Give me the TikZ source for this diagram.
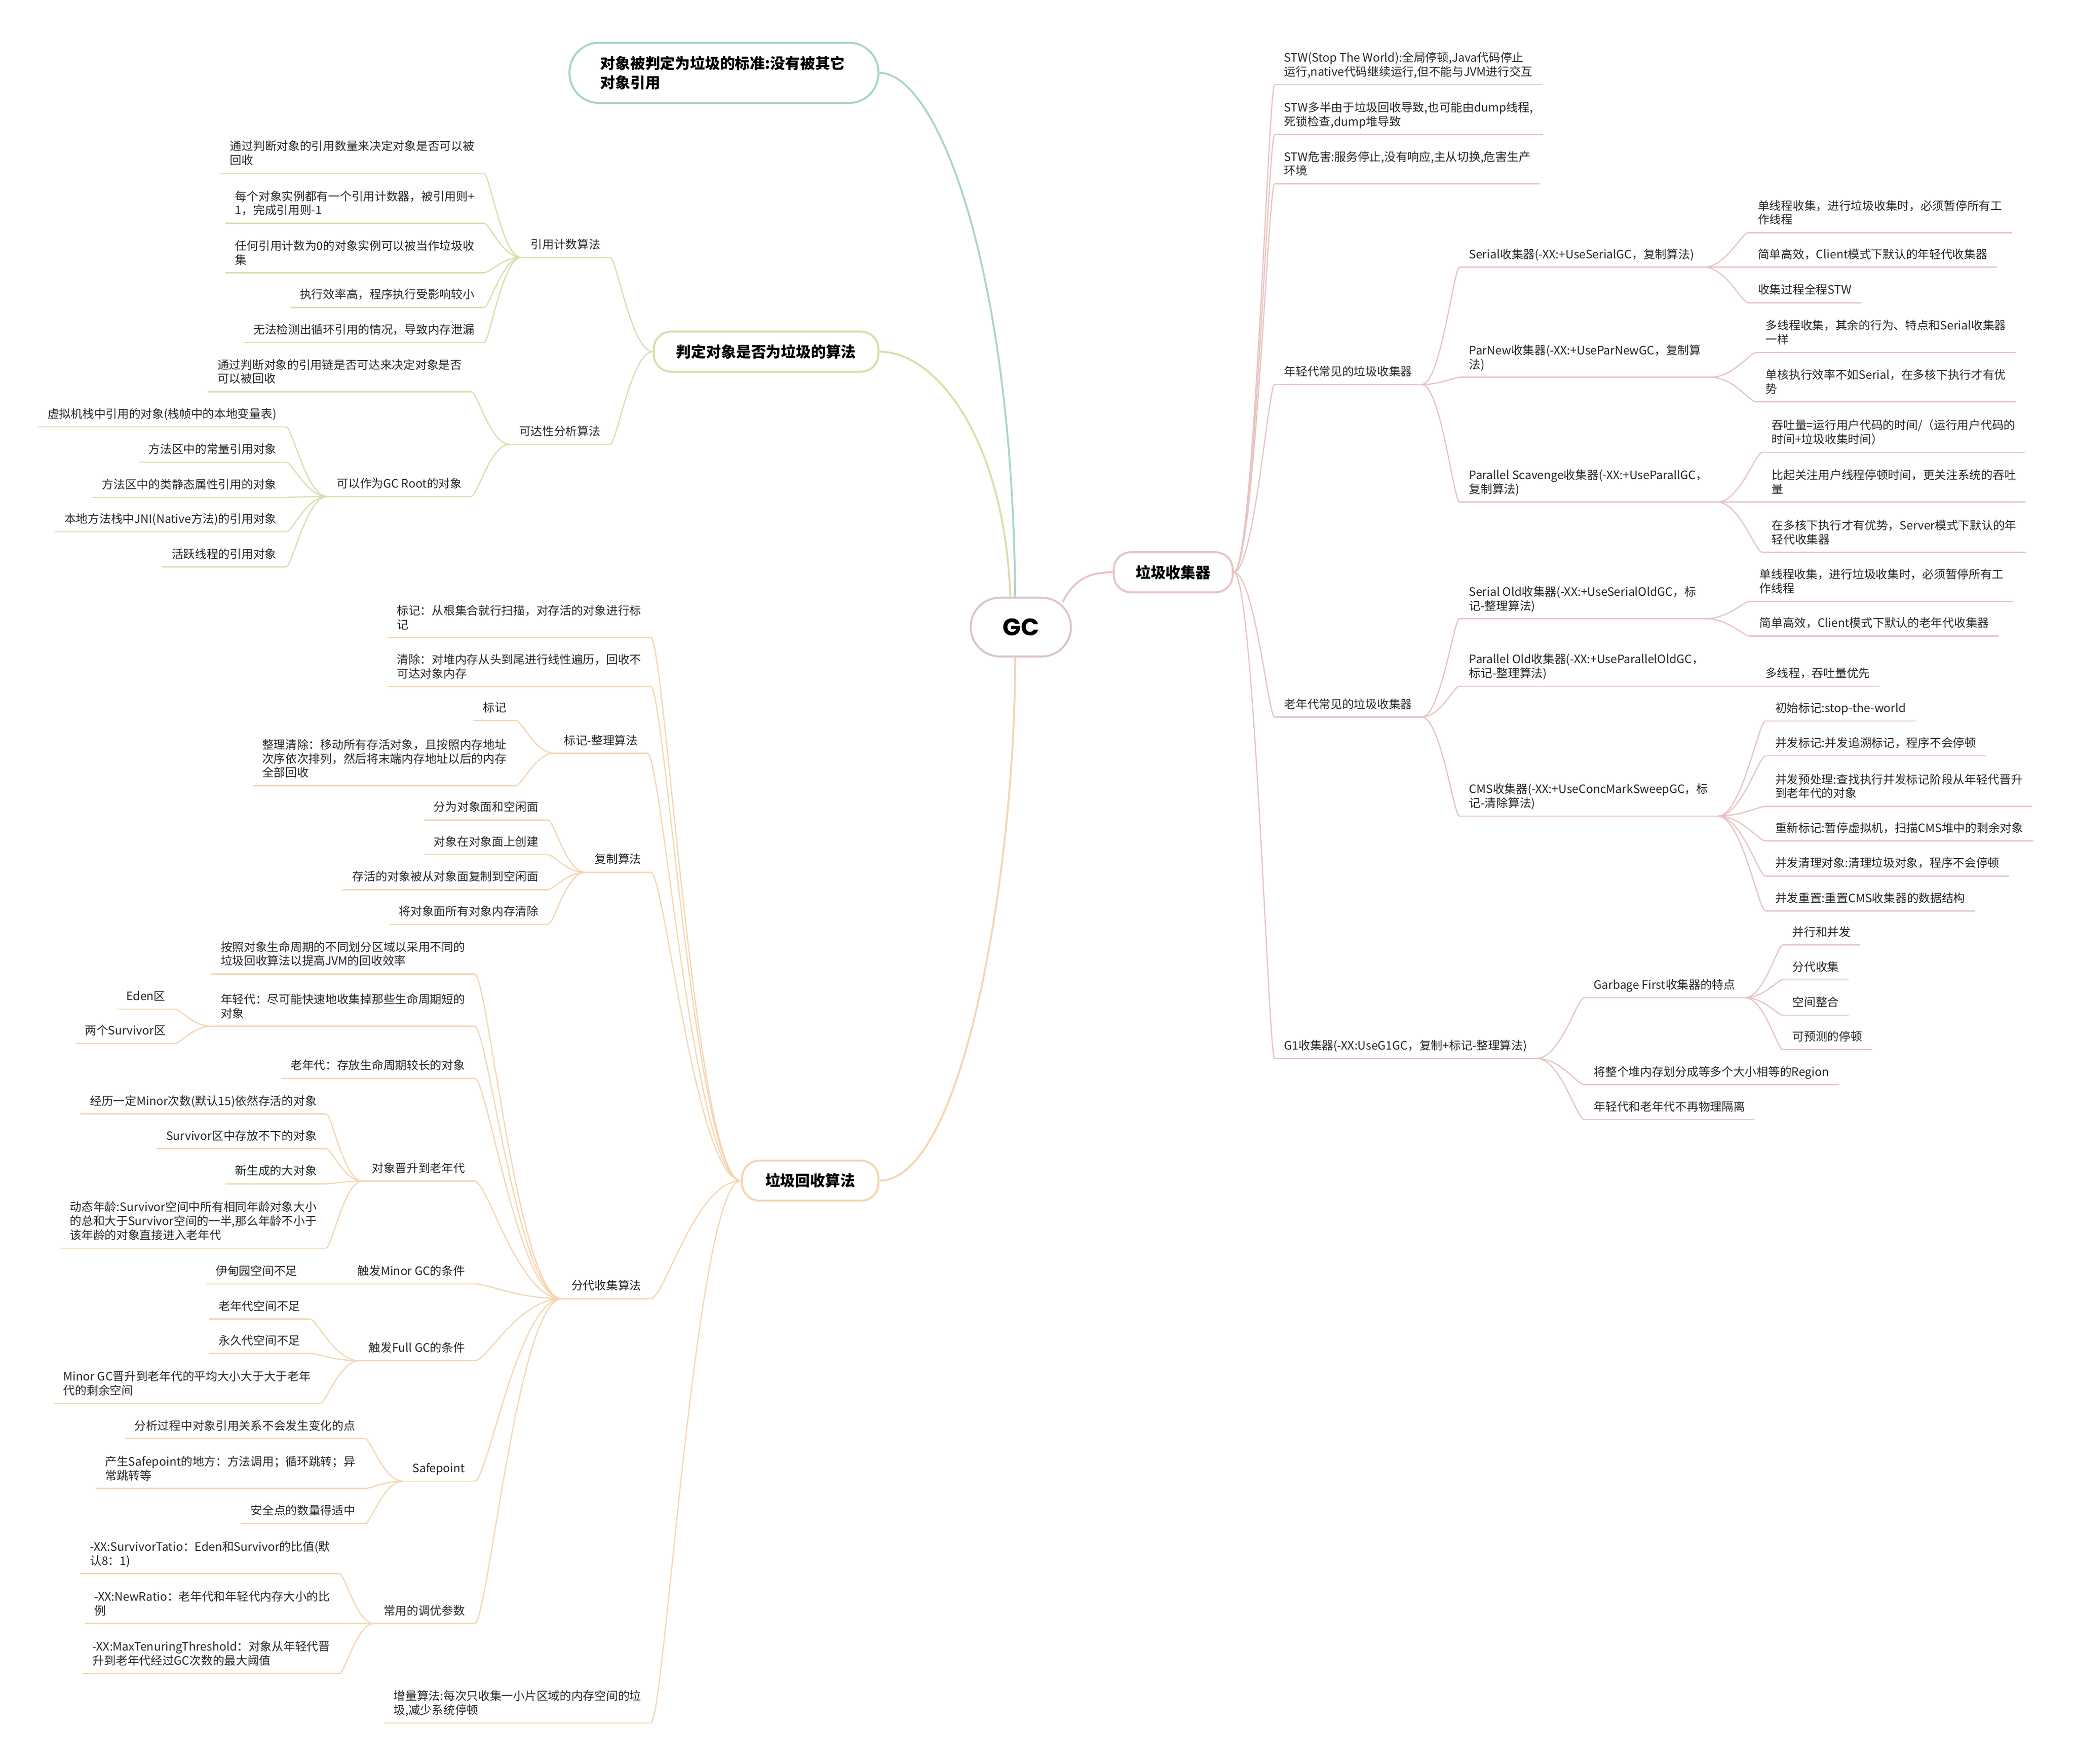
\documentclass[tikz,border=0pt]{standalone}
\usepackage{fontspec}
\setmainfont{Noto Sans CJK SC}
\newfontfamily\gcfont{Poppins}
\usetikzlibrary{calc}
\definecolor{cTeal}{HTML}{A8D6CC}
\definecolor{cYG}{HTML}{D7E0AA}
\definecolor{cOr}{HTML}{F5D6B2}
\definecolor{cPk}{HTML}{E8C4C4}
\definecolor{cGC}{HTML}{DCC4CE}
\definecolor{cTxt}{HTML}{262626}
\newcommand\lff{\fontsize{8.7pt}{10.5pt}\selectfont}
\newcommand\mbf{\fontsize{11.2pt}{14.7pt}\selectfont\bfseries}
\newcommand\mmconn[3][]{\draw[ln,#1] let \p1=(#2), \p2=(#3), \p3=($(\p1)!0.15!(\p2)$), \p4=($(\p1)!0.5!(\p2)$) in (\p1) .. controls (\x3,\y1) and (\x4,\y2) .. (\p2);}
\newcommand\mmul[2]{\foreach \n in {#2} {\draw[ln,#1] (\n.south west) -- (\n.south east);}}
\tikzset{
  lf/.style={font=\lff, inner xsep=7pt, inner ysep=4pt, text height=6.8pt, text depth=2.3pt, align=left, text=cTxt},
  L/.style={lf, anchor=south east},
  R/.style={lf, anchor=south west},
  two/.style={},
  three/.style={},
  mbox/.style={draw, line width=1.5pt, rounded corners=13pt, fill=white, font=\mbf, text=black, minimum height=30pt, inner sep=0pt},
  ln/.style={line width=0.9pt},
  mln/.style={line width=1.4pt},
}
\begin{document}
\begin{tikzpicture}[x=1pt,y=-1pt]
\fill[white] (0,0) rectangle (1552,1319.3);
\path[use as bounding box] (0,0) rectangle (1552,1319.3);

% main boxes
\node[mbox, draw=cTeal, minimum width=231pt, minimum height=45pt, rounded corners=22pt, align=left, text width=185pt] (b1) at (541.5,54.5) {对象被判定为垃圾的标准:没有被其它\\对象引用};
\node[mbox, draw=cYG, minimum width=168pt] (b2) at (573,263) {判定对象是否为垃圾的算法};
\node[mbox, draw=cOr, minimum width=102pt] (b3) at (606,883) {垃圾回收算法};
\node[mbox, draw=cPk, minimum width=89pt] (b4) at (877.5,428) {垃圾收集器};
\node[mbox, draw=cGC, minimum width=75pt, minimum height=44pt, rounded corners=22pt, font=\gcfont\bfseries\fontsize{18pt}{20pt}\selectfont] (gc) at (763.5,469) {GC};

\draw[mln,cTeal] (b1.east) .. controls +(43,0) and +(-2,-247) .. ($(gc.north)+(-4.2,0)$);
\draw[mln,cYG] (b2.east) .. controls +(43,0) and +(-4,-117) .. ($(gc.north)+(-7.9,0)$);
\draw[mln,cOr] (b3.east) .. controls +(63,0) and +(0,159) .. ($(gc.south)+(-4.2,0)$);
\draw[mln,cPk] ($(gc.north east)+(-7,4)$) .. controls +(9,-17) and +(-18,0) .. (b4.west);

% yellow-green branch
\node[L] (A) at (456.4,192.6) {引用计数算法};
\node[L,two] (A1) at (362,129.6) {通过判断对象的引用数量来决定对象是否可以被\\回收};
\node[L,two] (A2) at (362,167) {每个对象实例都有一个引用计数器，被引用则+\\1，完成引用则-1};
\node[L,two] (A3) at (362,204) {任何引用计数为0的对象实例可以被当作垃圾收\\集};
\node[L] (A4) at (362,230) {执行效率高，程序执行受影响较小};
\node[L] (A5) at (362,256.3) {无法检测出循环引用的情况，导致内存泄漏};
\node[L] (B) at (456.4,332.3) {可达性分析算法};
\node[L,two] (B1) at (352.6,293) {通过判断对象的引用链是否可达来决定对象是否\\可以被回收};
\node[L] (B2) at (352.6,371.3) {可以作为GC Root的对象};
\node[L] (B2a) at (214,319.2) {虚拟机栈中引用的对象(栈帧中的本地变量表)};
\node[L] (B2b) at (214,345.7) {方法区中的常量引用对象};
\node[L] (B2c) at (214,372) {方法区中的类静态属性引用的对象};
\node[L] (B2d) at (214,397.8) {本地方法栈中JNI(Native方法)的引用对象};
\node[L] (B2e) at (214,424) {活跃线程的引用对象};
\mmul{cYG}{A,A1,A2,A3,A4,A5,B,B1,B2,B2a,B2b,B2c,B2d,B2e}
\foreach \c in {A,B} {\mmconn[cYG]{\c.south east}{b2.west}}
\foreach \c in {A1,A2,A3,A4,A5} {\mmconn[cYG]{\c.south east}{A.south west}}
\foreach \c in {B1,B2} {\mmconn[cYG]{\c.south east}{B.south west}}
\foreach \c in {B2a,B2b,B2c,B2d,B2e} {\mmconn[cYG]{\c.south east}{B2.south west}}

% orange branch
\node[L,two] (C1) at (486.8,476.8) {标记：从根集合就行扫描，对存活的对象进行标\\记};
\node[L,two] (C2) at (486.8,513.6) {清除：对堆内存从头到尾进行线性遍历，回收不\\可达对象内存};
\node[L] (C3) at (484.3,563.4) {标记-整理算法};
\node[L] (C3a) at (386,538.9) {标记};
\node[L,three] (C3b) at (386,587.6) {整理清除：移动所有存活对象，且按照内存地址\\次序依次排列，然后将末端内存地址以后的内存\\全部回收};
\node[L] (C4) at (486.8,652.4) {复制算法};
\node[L] (C4a) at (410,613.3) {分为对象面和空闲面};
\node[L] (C4b) at (410,639.3) {对象在对象面上创建};
\node[L] (C4c) at (410,665.4) {存活的对象被从对象面复制到空闲面};
\node[L] (C4d) at (410,691.4) {将对象面所有对象内存清除};
\node[L] (C5) at (486.8,971.3) {分代收集算法};
\node[L,two] (C5a) at (355,728.4) {按照对象生命周期的不同划分区域以采用不同的\\垃圾回收算法以提高JVM的回收效率};
\node[L,two] (C5b) at (355,767.6) {年轻代：尽可能快速地收集掉那些生命周期短的\\对象};
\node[L] (C5b1) at (131,754.7) {Eden区};
\node[L] (C5b2) at (131,780.4) {两个Survivor区};
\node[L] (C5c) at (355,806.6) {老年代：存放生命周期较长的对象};
\node[L] (C5d) at (355,883.4) {对象晋升到老年代};
\node[L] (C5d1) at (244,833.1) {经历一定Minor次数(默认15)依然存活的对象};
\node[L] (C5d2) at (244,859.1) {Survivor区中存放不下的对象};
\node[L] (C5d3) at (244,885.4) {新生成的大对象};
\node[L,three] (C5d4) at (244,933.5) {动态年龄:Survivor空间中所有相同年龄对象大小\\的总和大于Survivor空间的一半,那么年龄不小于\\该年龄的对象直接进入老年代};
\node[L] (C5e) at (355,960.2) {触发Minor GC的条件};
\node[L] (C5e1) at (229.5,960.2) {伊甸园空间不足};
\node[L] (C5f) at (355,1017.7) {触发Full GC的条件};
\node[L] (C5f1) at (231.6,986.5) {老年代空间不足};
\node[L] (C5f2) at (231.6,1012.2) {永久代空间不足};
\node[L,two] (C5f3) at (239.5,1049.6) {Minor GC晋升到老年代的平均大小大于大于老年\\代的剩余空间};
\node[L] (C5g) at (355,1107.8) {Safepoint};
\node[L] (C5g1) at (273,1075.9) {分析过程中对象引用关系不会发生变化的点};
\node[L,two] (C5g2) at (273,1113.3) {产生Safepoint的地方：方法调用；循环跳转；异\\常跳转等};
\node[L] (C5g3) at (273,1139.5) {安全点的数量得适中};
\node[L] (C5h) at (355,1214.3) {常用的调优参数};
\node[L,two] (C5h1) at (254,1177) {-XX:SurvivorTatio：Eden和Survivor的比值(默\\认8：1)};
\node[L,two] (C5h2) at (254,1214.3) {-XX:NewRatio：老年代和年轻代内存大小的比\\例};
\node[L,two] (C5h3) at (254,1251.7) {-XX:MaxTenuringThreshold：对象从年轻代晋\\升到老年代经过GC次数的最大阈值};
\node[L,two] (C6) at (486.8,1288.7) {增量算法:每次只收集一小片区域的内存空间的垃\\圾,减少系统停顿};
\mmul{cOr}{C1,C2,C3,C3a,C3b,C4,C4a,C4b,C4c,C4d,C5,C5a,C5b,C5b1,C5b2,C5c,C5d,C5d1,C5d2,C5d3,C5d4,C5e,C5e1,C5f,C5f1,C5f2,C5f3,C5g,C5g1,C5g2,C5g3,C5h,C5h1,C5h2,C5h3,C6}
\foreach \c in {C1,C2,C3,C4,C5,C6} {\mmconn[cOr]{\c.south east}{b3.west}}
\foreach \c in {C3a,C3b} {\mmconn[cOr]{\c.south east}{C3.south west}}
\foreach \c in {C4a,C4b,C4c,C4d} {\mmconn[cOr]{\c.south east}{C4.south west}}
\foreach \c in {C5a,C5b,C5c,C5d,C5e,C5f,C5g,C5h} {\mmconn[cOr]{\c.south east}{C5.south west}}
\foreach \c in {C5b1,C5b2} {\mmconn[cOr]{\c.south east}{C5b.south west}}
\foreach \c in {C5d1,C5d2,C5d3,C5d4} {\mmconn[cOr]{\c.south east}{C5d.south west}}
\mmconn[cOr]{C5e1.south east}{C5e.south west}
\foreach \c in {C5f1,C5f2,C5f3} {\mmconn[cOr]{\c.south east}{C5f.south west}}
\foreach \c in {C5g1,C5g2,C5g3} {\mmconn[cOr]{\c.south east}{C5g.south west}}
\foreach \c in {C5h1,C5h2,C5h3} {\mmconn[cOr]{\c.south east}{C5h.south west}}

% pink branch
\node[R,two] (D1) at (953.3,63.4) {STW(Stop The World):全局停顿,Java代码停止\\运行,native代码继续运行,但不能与JVM进行交互};
\node[R,two] (D2) at (953.3,100.6) {STW多半由于垃圾回收导致,也可能由dump线程,\\死锁检查,dump堆导致};
\node[R,two] (D3) at (953.3,137.4) {STW危害:服务停止,没有响应,主从切换,危害生产\\环境};
\node[R] (D4) at (953.3,287.6) {年轻代常见的垃圾收集器};
\node[R] (D4a) at (1091.6,199.8) {Serial收集器(-XX:+UseSerialGC，复制算法)};
\node[R,two] (D4a1) at (1307.6,174) {单线程收集，进行垃圾收集时，必须暂停所有工\\作线程};
\node[R] (D4a2) at (1307.6,199.8) {简单高效，Client模式下默认的年轻代收集器};
\node[R] (D4a3) at (1307.6,226.5) {收集过程全程STW};
\node[R,two] (D4b) at (1091.6,282.2) {ParNew收集器(-XX:+UseParNewGC，复制算\\法)};
\node[R,two] (D4b1) at (1313.5,263.7) {多线程收集，其余的行为、特点和Serial收集器\\一样};
\node[R,two] (D4b2) at (1313.5,300.5) {单核执行效率不如Serial，在多核下执行才有优\\势};
\node[R,two] (D4c) at (1091.6,375.5) {Parallel Scavenge收集器(-XX:+UseParallGC，\\复制算法)};
\node[R,two] (D4c1) at (1318,338.3) {吞吐量=运行用户代码的时间/（运行用户代码的\\时间+垃圾收集时间）};
\node[R,two] (D4c2) at (1318,375.5) {比起关注用户线程停顿时间，更关注系统的吞吐\\量};
\node[R,two] (D4c3) at (1318,413.1) {在多核下执行才有优势，Server模式下默认的年\\轻代收集器};
\node[R] (D5) at (953.3,536.3) {老年代常见的垃圾收集器};
\node[R,two] (D5a) at (1091.6,462.7) {Serial Old收集器(-XX:+UseSerialOldGC，标\\记-整理算法)};
\node[R,two] (D5a1) at (1308.8,449.9) {单线程收集，进行垃圾收集时，必须暂停所有工\\作线程};
\node[R] (D5a2) at (1308.8,475.7) {简单高效，Client模式下默认的老年代收集器};
\node[R,two] (D5b) at (1091.6,513.2) {Parallel Old收集器(-XX:+UseParallelOldGC，\\标记-整理算法)};
\node[R] (D5b1) at (1313.2,513.2) {多线程，吞吐量优先};
\node[R,two] (D5c) at (1091.6,610.4) {CMS收集器(-XX:+UseConcMarkSweepGC，标\\记-清除算法)};
\node[R] (D5c1) at (1320.6,539.2) {初始标记:stop-the-world};
\node[R] (D5c2) at (1320.6,565.3) {并发标记:并发追溯标记，程序不会停顿};
\node[R,two] (D5c3) at (1320.6,603.1) {并发预处理:查找执行并发标记阶段从年轻代晋升\\到老年代的对象};
\node[R] (D5c4) at (1320.6,628.9) {重新标记:暂停虚拟机，扫描CMS堆中的剩余对象};
\node[R] (D5c5) at (1320.6,655.2) {并发清理对象:清理垃圾对象，程序不会停顿};
\node[R] (D5c6) at (1320.6,681.3) {并发重置:重置CMS收集器的数据结构};
\node[R] (D6) at (953.3,791.6) {G1收集器(-XX:UseG1GC，复制+标记-整理算法)};
\node[R] (D6a) at (1184.9,746.2) {Garbage First收集器的特点};
\node[R] (D6a1) at (1333.5,706.7) {并行和并发};
\node[R] (D6a2) at (1333.5,732.8) {分代收集};
\node[R] (D6a3) at (1333.5,759.2) {空间整合};
\node[R] (D6a4) at (1333.5,784.9) {可预测的停顿};
\node[R] (D6b) at (1184.9,811.2) {将整个堆内存划分成等多个大小相等的Region};
\node[R] (D6c) at (1184.9,837.4) {年轻代和老年代不再物理隔离};
\mmul{cPk}{D1,D2,D3,D4,D4a,D4a1,D4a2,D4a3,D4b,D4b1,D4b2,D4c,D4c1,D4c2,D4c3,D5,D5a,D5a1,D5a2,D5b,D5b1,D5c,D5c1,D5c2,D5c3,D5c4,D5c5,D5c6,D6,D6a,D6a1,D6a2,D6a3,D6a4,D6b,D6c}
\foreach \c in {D1,D2,D3,D4,D5,D6} {\mmconn[cPk]{\c.south west}{b4.east}}
\foreach \c in {D4a,D4b,D4c} {\mmconn[cPk]{\c.south west}{D4.south east}}
\foreach \c in {D4a1,D4a2,D4a3} {\mmconn[cPk]{\c.south west}{D4a.south east}}
\foreach \c in {D4b1,D4b2} {\mmconn[cPk]{\c.south west}{D4b.south east}}
\foreach \c in {D4c1,D4c2,D4c3} {\mmconn[cPk]{\c.south west}{D4c.south east}}
\foreach \c in {D5a,D5b,D5c} {\mmconn[cPk]{\c.south west}{D5.south east}}
\foreach \c in {D5a1,D5a2} {\mmconn[cPk]{\c.south west}{D5a.south east}}
\mmconn[cPk]{D5b1.south west}{D5b.south east}
\foreach \c in {D5c1,D5c2,D5c3,D5c4,D5c5,D5c6} {\mmconn[cPk]{\c.south west}{D5c.south east}}
\foreach \c in {D6a,D6b,D6c} {\mmconn[cPk]{\c.south west}{D6.south east}}
\foreach \c in {D6a1,D6a2,D6a3,D6a4} {\mmconn[cPk]{\c.south west}{D6a.south east}}
\end{tikzpicture}
\end{document}
